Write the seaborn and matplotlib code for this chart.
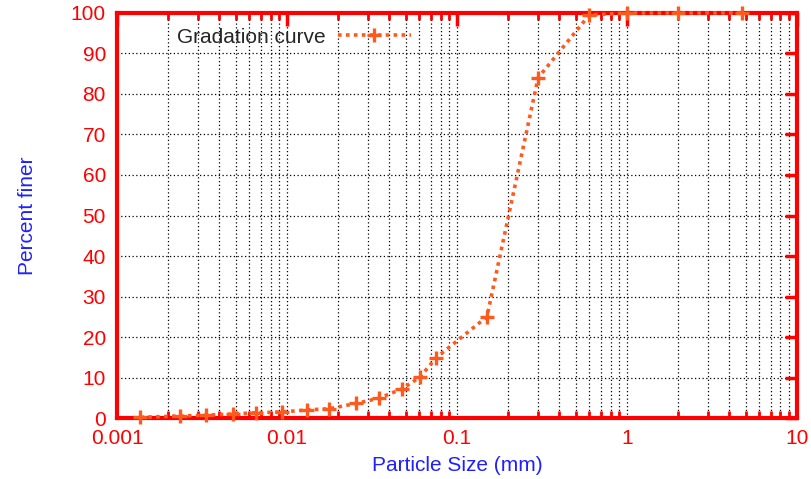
import numpy as np
import pandas as pd
import matplotlib
matplotlib.use("Agg")
import matplotlib.pyplot as plt
import seaborn as sns
from matplotlib.ticker import LogLocator, FixedLocator, NullFormatter

sns.set_style("white")
plt.rcParams['font.family'] = ['Liberation Sans', 'DejaVu Sans']

# Sieve + hydrometer data
size_mm = [0.00137, 0.00235, 0.00334, 0.00481, 0.00657, 0.00935, 0.0131, 0.0177,
           0.0255, 0.0348, 0.0475, 0.0606, 0.075, 0.15, 0.3, 0.6, 1.0, 2.0, 4.75]
percent_finer = [0.2, 0.5, 0.7, 1.0, 1.3, 1.5, 2.0, 2.3,
                 3.6, 4.9, 7.2, 10.1, 14.8, 25.0, 84.0, 99.5, 100.0, 100.0, 100.0]

df = pd.DataFrame({"size": size_mm, "finer": percent_finer})

red = "#ff0000"
curve = "#ff5a1e"

fig = plt.figure(figsize=(8.11, 4.79), dpi=100)
ax = fig.add_axes([0.1443, 0.1273, 0.8384, 0.8456])

sns.lineplot(data=df, x="size", y="finer", ax=ax, color=curve, linestyle=(0, (1, 1.2)),
             linewidth=2.6, marker="+", markersize=10, markeredgewidth=2.4,
             markeredgecolor=curve, label="Gradation curve", clip_on=False, zorder=5)

ax.set_xscale("log")
ax.set_xlim(0.001, 10)
ax.set_ylim(0, 100)
ax.xaxis.set_major_locator(FixedLocator([0.001, 0.01, 0.1, 1, 10]))
ax.xaxis.set_minor_locator(LogLocator(base=10, subs=np.arange(2, 10)))
ax.xaxis.set_minor_formatter(NullFormatter())
ax.set_xticklabels(["0.001", "0.01", "0.1", "1", "10"])
ax.set_yticks(np.arange(0, 101, 10))

ax.grid(True, which="major", axis="both", color="black", linestyle=(0, (1, 2)), linewidth=0.9)
ax.grid(True, which="minor", axis="x", color="black", linestyle=(0, (1, 2)), linewidth=0.9)

for s in ax.spines.values():
    s.set_color(red)
    s.set_linewidth(3)

ax.tick_params(which="major", direction="in", length=9, width=2.5, color=red,
               labelcolor=red, labelsize=15, top=True, right=True, pad=8)
ax.tick_params(which="minor", direction="in", length=5, width=2, color=red,
               top=True, bottom=True)

ax.set_xlabel("Particle Size (mm)", color="#2020ff", fontsize=15)
ax.set_ylabel("Percent finer", color="#2020ff", fontsize=15)
ax.xaxis.set_label_coords(0.5, -0.116)
ax.yaxis.set_label_coords(-0.131, 0.5)
ax.xaxis.label.set_va("center")
ax.yaxis.label.set_va("center")

leg = ax.legend(loc="upper left", bbox_to_anchor=(0.06, 1.01), frameon=False,
                markerfirst=False, fontsize=15, handlelength=3.5, handletextpad=0.6)

fig.savefig("out.png", dpi=100)
